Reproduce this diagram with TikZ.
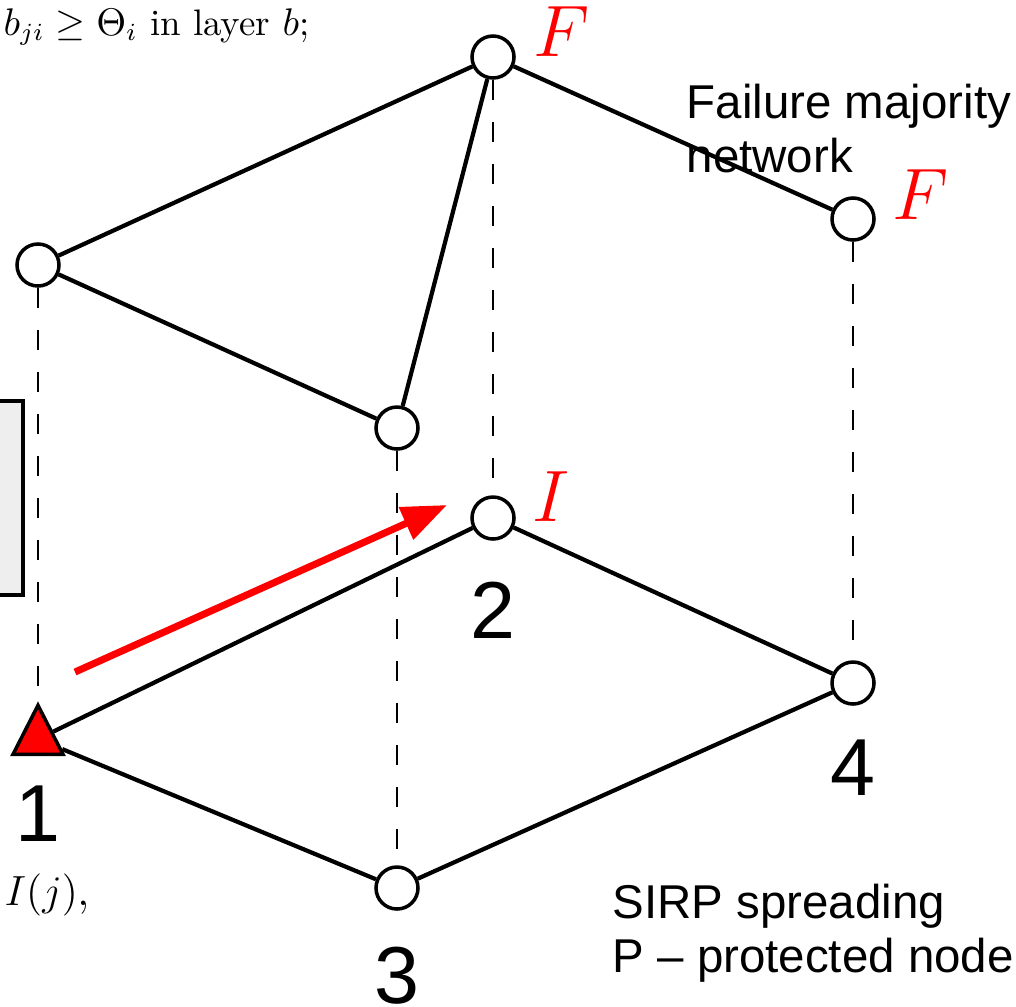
\documentclass[tikz,border=0pt]{standalone}
\usepackage{fontspec}
\setsansfont{Liberation Sans}
\usetikzlibrary{arrows.meta,shapes.geometric}
\definecolor{boxg}{HTML}{EEEEEE}

\begin{document}
\begin{tikzpicture}[x=0.1mm,y=-0.1mm,
  vtx/.style={circle,draw=black,fill=white,line width=1pt,minimum size=4.2mm,inner sep=0pt},
  seed/.style={isosceles triangle,isosceles triangle apex angle=54,shape border rotate=90,draw=black,fill=red,line width=1pt,minimum size=4.9mm,inner sep=0pt},
  edge/.style={draw=black,line width=1.2pt},
  link/.style={draw=black,line width=0.8pt,dash pattern=on 2mm off 2.2mm},
  push/.style={-{Triangle[length=4.5mm,width=3.4mm]},draw=red,line width=2pt},
  state/.style={text=red,font=\fontsize{20}{20}\selectfont,inner sep=0pt},
  num/.style={font=\sffamily\fontsize{23}{23}\selectfont,inner sep=0pt},
  note/.style={font=\sffamily\fontsize{13.5}{15.6}\selectfont,align=left,inner sep=0pt,anchor=north west},
  rule/.style={font=\fontsize{10.5}{13}\selectfont,inner sep=0pt,anchor=base west}]

\useasboundingbox (0,0) rectangle (1016,1006);

% ---------- cut-off bits of the page behind ----------
\draw[line width=1pt,fill=boxg] (-10,401) rectangle (23,595);
\node[rule] (thr) at (3,35) {$b_{ji}\geq\Theta_i$ in layer $b$;};
\node[rule,font=\fontsize{13}{15}\selectfont] (inf) at (4,905) {$I(j)$,};

% ---------- failure layer (top) ----------
\node[vtx] (f1) at (38,265) {};
\node[vtx] (f2) at (493,57) {};
\node[vtx] (f3) at (397,428) {};
\node[vtx] (f4) at (853,219) {};
\node[state] (f2s) at (562,32) {$F$};
\node[state] (f4s) at (921,195) {$F$};
\node[note] (top) at (686,83) {Failure majority\\network};

% ---------- spreading layer (bottom) ----------
\node[seed] (s1) at (38,739) {};
\node[vtx] (s2) at (493,518) {};
\node[vtx] (s3) at (397,888) {};
\node[vtx] (s4) at (853,683) {};
\node[state] (s2s) at (551,497) {$I$};
\node[num] (n1) at (38,814) {1};
\node[num] (n2) at (493,610) {2};
\node[num] (n3) at (397,976) {3};
\node[num] (n4) at (853,768) {4};
\node[note] (bot) at (612,883) {SIRP spreading\\P – protected node};

% ---------- edges ----------
\draw[edge] (f1) -- (f2);
\draw[edge] (f1) -- (f3);
\draw[edge] (f3) -- (f2);
\draw[edge] (f2) -- (f4);
\draw[edge] (s1) -- (s2);
\draw[edge] (s2) -- (s4);
\draw[edge] (s1) -- (s3);
\draw[edge] (s3) -- (s4);

% ---------- same node in both layers ----------
\draw[link] (f1) -- (s1.apex);
\draw[link] (f2) -- (s2);
\draw[link] (f3) -- (s3);
\draw[link] (f4) -- (s4);

% ---------- spread 1 -> 2 ----------
\coordinate (pa) at (75,672);
\coordinate (pb) at (447,505);
\draw[push] (pa) -- (pb);
\end{tikzpicture}
\end{document}
